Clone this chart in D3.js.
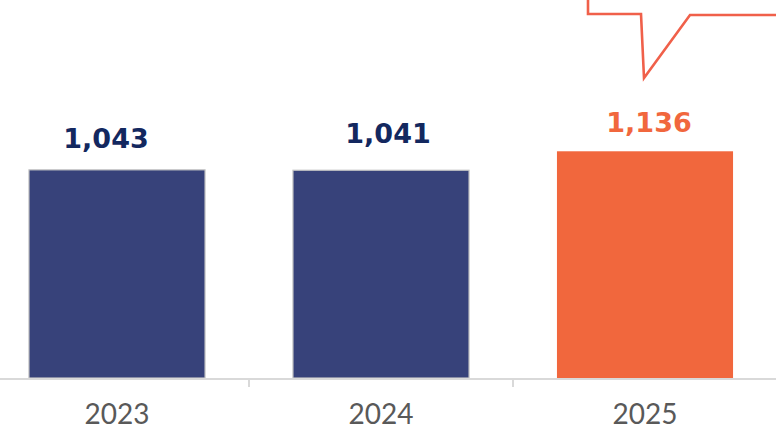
<!DOCTYPE html>
<html><head><meta charset="utf-8">
<script src="https://cdn.jsdelivr.net/npm/d3@7"></script>
<style>html,body{margin:0;padding:0;background:#fff;overflow:hidden}</style>
</head><body>
<svg id="chart" width="776" height="430"></svg>
<script>
const categories = ["2023", "2024", "2025"];
const values = [1043, 1041, 1136];
const labels = ["1,043", "1,041", "1,136"];
const highlight = [false, false, true];

// layout: small manual nudges of the data labels (as placed in the original)
const labelDx = [-11, 7, 4];
const labelDy = [-22, -27, -19];

const svg = d3.select("#chart");
const W = 776, H = 430;
const baseY = 378;

const x = d3.scaleBand().domain(categories).range([-15, 777]).paddingInner(0.333).paddingOuter(0.1665);
const y = d3.scaleLinear().domain([0, 1894]).range([baseY, 0]);

const navy = "#37427a", orange = "#f1673d";

// bars
svg.selectAll("rect.bar").data(categories).join("rect")
  .attr("class", "bar")
  .attr("x", d => x(d))
  .attr("width", x.bandwidth())
  .attr("y", (d, i) => y(values[i]))
  .attr("height", (d, i) => baseY - y(values[i]))
  .attr("fill", (d, i) => highlight[i] ? orange : navy)
  .attr("stroke", (d, i) => highlight[i] ? "none" : "#c4c4c4")
  .attr("stroke-width", 1.2);

// value labels
svg.selectAll("text.val").data(categories).join("text")
  .attr("class", "val")
  .attr("x", (d, i) => x(d) + x.bandwidth() / 2 + labelDx[i])
  .attr("y", (d, i) => y(values[i]) + labelDy[i])
  .attr("text-anchor", "middle")
  .attr("font-family", "DejaVu Sans, sans-serif")
  .attr("font-weight", 700)
  .attr("font-size", 27)
  .attr("fill", (d, i) => highlight[i] ? orange : "#13285f")
  .text((d, i) => labels[i]);

// axis
const outer = d3.scaleBand().domain(categories).range([-15, 777]);
svg.append("line").attr("x1", 0).attr("x2", W).attr("y1", baseY + 1).attr("y2", baseY + 1)
  .attr("stroke", "#d9d9d9").attr("stroke-width", 2);
svg.selectAll("line.tick").data(categories).join("line")
  .attr("class", "tick")
  .attr("x1", d => outer(d) + outer.bandwidth())
  .attr("x2", d => outer(d) + outer.bandwidth())
  .attr("y1", baseY).attr("y2", baseY + 9)
  .attr("stroke", "#d9d9d9").attr("stroke-width", 2);
svg.selectAll("text.cat").data(categories).join("text")
  .attr("class", "cat")
  .attr("x", d => x(d) + x.bandwidth() / 2)
  .attr("y", 424)
  .attr("text-anchor", "middle")
  .attr("font-family", "Lato, sans-serif")
  .attr("font-weight", 400)
  .attr("font-size", 28)
  .attr("fill", "#595959")
  .text(d => d);

// callout bubble (annotation anchored to the highlighted bar)
const cx = x("2025") + x.bandwidth() / 2;
const bubble = d3.path();
bubble.moveTo(cx - 57, -5);
bubble.lineTo(cx - 57, 14);
bubble.lineTo(cx - 4, 14);
bubble.lineTo(cx - 1, 78);
bubble.lineTo(cx + 45, 15);
bubble.lineTo(W + 5, 15);
svg.append("path").attr("d", bubble.toString())
  .attr("fill", "none").attr("stroke", "#f0604a").attr("stroke-width", 2.6)
  .attr("stroke-linejoin", "miter");
</script>
</body></html>
